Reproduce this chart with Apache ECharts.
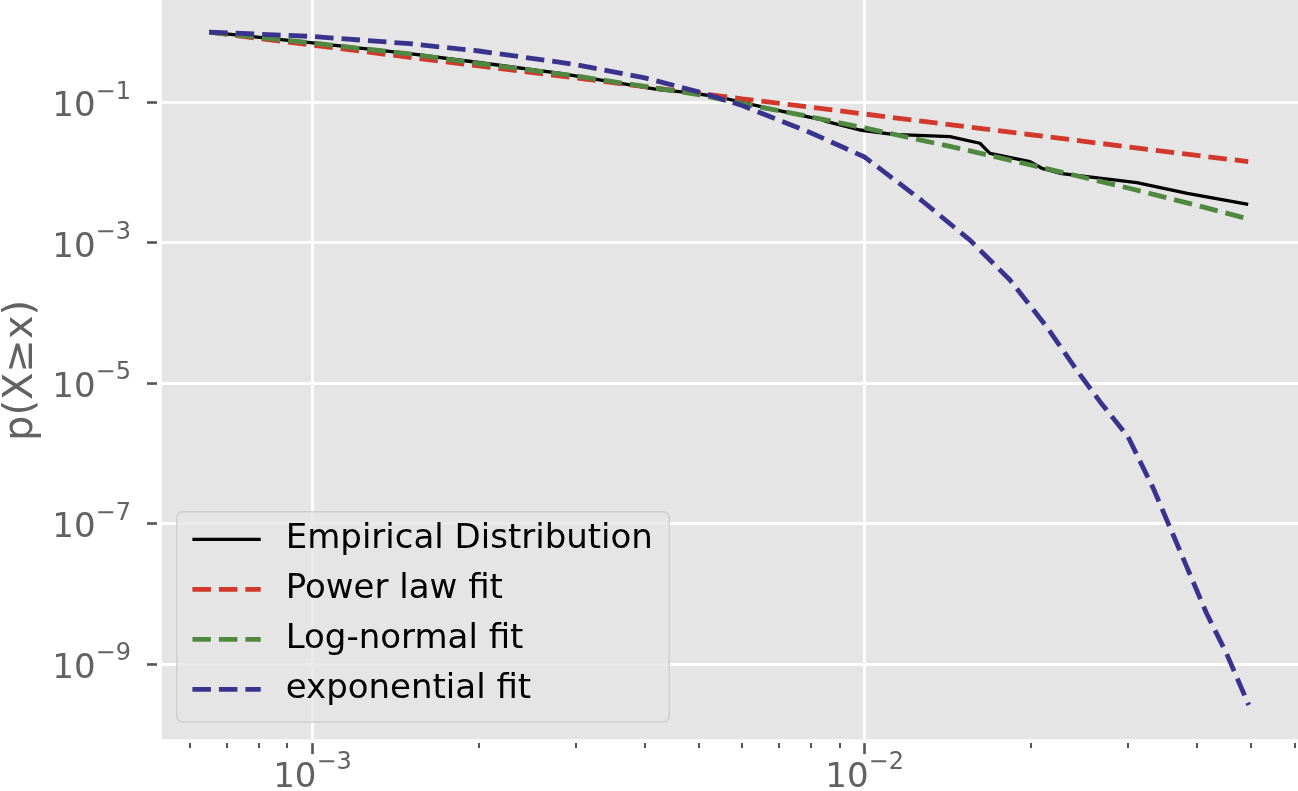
<!DOCTYPE html>
<html>
<head>
<meta charset="utf-8">
<script src="https://cdn.jsdelivr.net/npm/echarts@6/dist/echarts.min.js"></script>
<style>
  html, body { margin: 0; padding: 0; background: #fff; }
  #chart { width: 1298px; height: 791px; }
</style>
</head>
<body>
<div id="chart"></div>
<script>
const empiricalX = [6.5e-4, 1.0e-3, 1.5e-3, 2.0e-3, 2.81e-3, 4.26e-3, 4.83e-3, 5.47e-3, 6.83e-3, 8.3e-3, 8.55e-3, 9.8e-3,
  1.125e-2, 1.427e-2, 1.617e-2, 1.686e-2, 1.992e-2, 2.094e-2, 2.258e-2, 3.11e-2, 3.84e-2, 4.95e-2];
const empiricalY = [1.0, 0.70, 0.495, 0.369, 0.259, 0.150, 0.137, 0.118, 0.0795, 0.0573, 0.053, 0.0403,
  0.035, 0.0324, 0.0261, 0.01877, 0.01426, 0.01148, 0.00975, 0.00716, 0.00506, 0.00352];

const fitX = [6.5e-4, 8e-4, 1e-3, 1.5e-3, 2e-3, 3e-3, 4e-3, 5e-3, 6e-3, 8e-3, 1e-2, 1.5e-2, 2e-2, 3e-2, 4e-2, 4.95e-2];
const powerLawY = [1.0, 0.811, 0.650, 0.438, 0.330, 0.222, 0.167, 0.134, 0.112, 0.0849, 0.0681, 0.0458, 0.0345, 0.0232, 0.0175, 0.0143];
const logNormalY = [1.0, 0.838, 0.700, 0.488, 0.357, 0.237, 0.168, 0.129, 0.0962, 0.0618, 0.0431, 0.0216, 0.0128, 0.00601, 0.00339, 0.00218];

const expX = [6.5e-4, 8e-4, 1e-3, 1.5e-3, 2e-3, 3e-3, 4e-3, 5e-3, 6e-3, 8e-3, 1e-2, 1.27e-2, 1.551e-2, 1.833e-2,
  2.136e-2, 2.42e-2, 2.67e-2, 3.0e-2, 3.33e-2, 3.83e-2, 4.16e-2, 4.52e-2, 4.96e-2];
const expY = [1.0, 0.933, 0.866, 0.684, 0.538, 0.345, 0.223, 0.141, 0.090, 0.0366, 0.0166, 3.96e-3, 1.09e-3, 2.94e-4,
  6.35e-5, 1.54e-5, 5.4e-6, 1.71e-6, 3.2e-7, 2.43e-8, 5.26e-9, 1.42e-9, 2.6e-10];

const xMajorTicks = [1e-3, 1e-2];
const xMinorTicks = [6e-4, 7e-4, 8e-4, 9e-4, 2e-3, 3e-3, 4e-3, 5e-3, 6e-3, 7e-3, 8e-3, 9e-3, 2e-2, 3e-2, 4e-2, 5e-2, 6e-2];
const yMajorTicks = [1e-1, 1e-3, 1e-5, 1e-7, 1e-9];
const xRange = [5.279e-4, 6.092e-2];
const yRange = [8.03e-11, 2.866];

const names = ['Empirical Distribution', 'Power law fit', 'Log-normal fit', 'exponential fit'];
const colors = ['#000000', '#d2382c', '#518841', '#3a338d'];

const lg = Math.log10;
const pairs = (xs, ys) => xs.map((x, i) => [lg(x), lg(ys[i])]);

const font = 'DejaVu Sans';
const grey = '#626262';
const rich = {
  b: { fontSize: 34, fontFamily: font, color: grey, lineHeight: 44, verticalAlign: 'bottom' },
  s: { fontSize: 24, fontFamily: font, color: grey, lineHeight: 31, verticalAlign: 'top' },
};
const powLabel = (v) => '{b|10}{s|\u2212' + Math.abs(Math.round(v)) + '}';

const xBase = { type: 'value', min: lg(xRange[0]), max: lg(xRange[1]), position: 'bottom' };
const yBase = { type: 'value', min: lg(yRange[0]), max: lg(yRange[1]), position: 'left' };
const dash = [18.5, 8];
const lineDefs = [
  { width: 3.3, type: 'solid' },
  { width: 4.8, type: dash },
  { width: 4.8, type: dash },
  { width: 4.8, type: dash },
];
const styleOf = (i) => ({ color: colors[i], width: lineDefs[i].width, type: lineDefs[i].type });

const chart = echarts.init(document.getElementById('chart'));
chart.setOption({
  animation: false,
  backgroundColor: '#ffffff',
  grid: {
    left: 159.3, right: 0, top: 0, bottom: 50.2,
    show: true, backgroundColor: '#e5e5e5', borderWidth: 0,
    containLabel: false, outerBoundsMode: 'none',
  },
  xAxis: [
    {
      ...xBase,
      axisLine: { show: true, onZero: false, lineStyle: { color: '#ffffff', width: 4.6 } },
      axisTick: { show: false, customValues: xMajorTicks.map(lg) },
      axisLabel: { show: false },
      splitLine: { show: true, lineStyle: { color: '#ffffff', width: 2.8 } },
    },
    {
      ...xBase, offset: 2.3,
      axisLine: { show: false, onZero: false },
      axisTick: { show: true, customValues: xMajorTicks.map(lg), length: 11, lineStyle: { color: '#555555', width: 2.6 } },
      axisLabel: { show: true, customValues: xMajorTicks.map(lg), margin: 8, formatter: powLabel, rich },
      splitLine: { show: false },
    },
    {
      ...xBase, offset: 2.3,
      axisLine: { show: false, onZero: false },
      axisTick: { show: true, customValues: xMinorTicks.map(lg), length: 5, lineStyle: { color: '#555555', width: 2 } },
      axisLabel: { show: false },
      splitLine: { show: false },
    },
  ],
  yAxis: [
    {
      ...yBase,
      axisLine: { show: true, onZero: false, lineStyle: { color: '#ffffff', width: 4.6 } },
      axisTick: { show: false, customValues: yMajorTicks.map(lg) },
      axisLabel: { show: false },
      splitLine: { show: true, lineStyle: { color: '#ffffff', width: 2.8 } },
    },
    {
      ...yBase, offset: 2.3,
      name: 'p(X\u2265x)', nameLocation: 'middle', nameGap: 114,
      nameTextStyle: { fontSize: 40, fontFamily: font, color: grey },
      axisLine: { show: false, onZero: false },
      axisTick: { show: true, customValues: yMajorTicks.map(lg), length: 10, lineStyle: { color: '#555555', width: 2.6 } },
      axisLabel: { show: true, customValues: yMajorTicks.map(lg), margin: 26, formatter: powLabel, rich },
      splitLine: { show: false },
    },
  ],
  legend: {
    orient: 'vertical', left: 176.7, top: 511.7,
    padding: [10.6, 16.4, 15.7, 13.3],
    itemWidth: 68.3, itemHeight: 34, itemGap: 16,
    backgroundColor: 'rgba(229,229,229,0.8)', borderColor: '#cfcfcf', borderWidth: 1.5, borderRadius: 6,
    itemStyle: { color: 'rgba(0,0,0,0)', borderWidth: 0 },
    textStyle: { fontSize: 34, fontFamily: font, color: '#000000', padding: [0, 0, 0, 20] },
    data: names.map((n, i) => ({ name: n, lineStyle: styleOf(i) })),
  },
  series: [
    pairs(empiricalX, empiricalY),
    pairs(fitX, powerLawY),
    pairs(fitX, logNormalY),
    pairs(expX, expY),
  ].map((data, i) => ({
    name: names[i], type: 'line', data,
    xAxisIndex: 0, yAxisIndex: 0,
    symbol: 'none', z: 3 + i,
    lineStyle: styleOf(i),
    itemStyle: { color: colors[i] },
  })),
});
</script>
</body>
</html>
